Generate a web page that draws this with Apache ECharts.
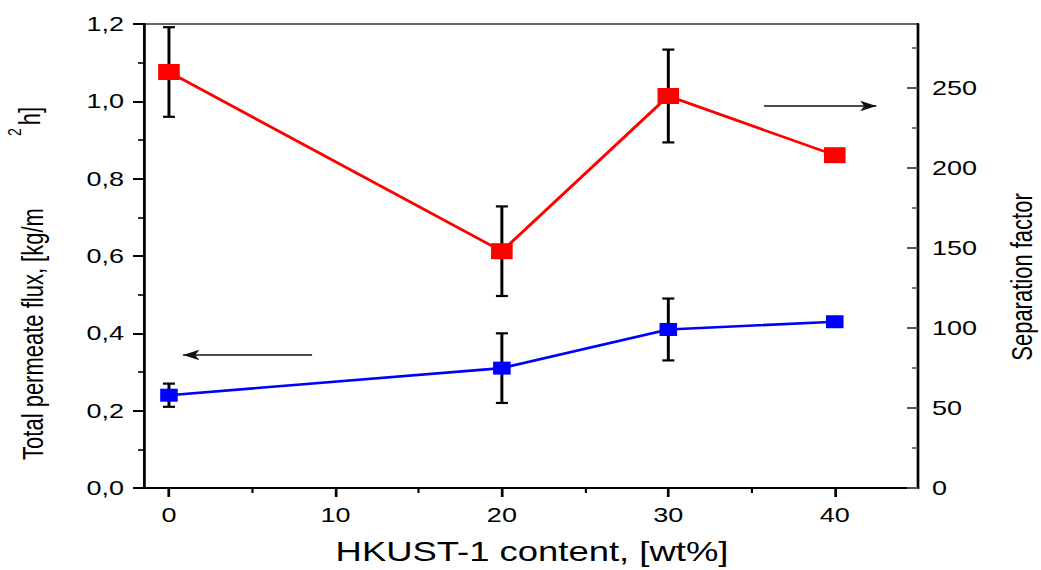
<!DOCTYPE html>
<html>
<head>
<meta charset="utf-8">
<script src="https://cdn.jsdelivr.net/npm/echarts@6/dist/echarts.min.js"></script>
<style>
  html, body { margin: 0; padding: 0; background: #fff; overflow: hidden; width: 1041px; height: 570px; }
  #chart { position: absolute; left: 0; top: 0; height: 570px; transform-origin: 0 0; }
</style>
</head>
<body>
<div id="chart"></div>
<script>
// HKUST-1 loading (wt%)
const contents = [0, 20, 30, 40];
// Total permeate flux, kg/(m2 h), with symmetric error half-widths
const fluxValues = [0.24, 0.31, 0.41, 0.43];
const fluxErrors = [0.03, 0.09, 0.08, null];
// Separation factor, with symmetric error half-widths
const separationValues = [260, 148, 245, 208];
const separationErrors = [28, 28, 29, null];

// Axis ticks
const xMajorTicks = [0, 10, 20, 30, 40];
const xMinorTicks = [5, 15, 25, 35];
const fluxMajorTicks = [0, 0.2, 0.4, 0.6, 0.8, 1.0, 1.2];
const fluxMinorTicks = [0.1, 0.3, 0.5, 0.7, 0.9, 1.1];
const sepMajorTicks = [0, 50, 100, 150, 200, 250];
const sepMinorTicks = [25, 75, 125, 175, 225, 275];

// Direction arrows pointing each curve to its axis (data coordinates)
const fluxArrow = { from: [8.6, 0.344], to: [0.85, 0.344] };
const sepArrow = { from: [35.75, 238.75], to: [42.5, 238.75] };

// The figure is laid out on a narrower canvas and widened horizontally.
const SX = 1.35;
const W = 1041 / SX, H = 570;
const px = v => v / SX;

const el = document.getElementById('chart');
el.style.width = W + 'px';
el.style.transform = 'scaleX(' + SX + ')';

const FONT = "'Liberation Sans', Arial, sans-serif";

function errorRows(values, errors) {
  const rows = [];
  contents.forEach((x, i) => {
    if (errors[i] != null) rows.push([x, values[i] - errors[i], values[i] + errors[i]]);
  });
  return rows;
}

function renderErrorBar(params, api) {
  const x = api.value(0);
  const lo = api.coord([x, api.value(1)]);
  const hi = api.coord([x, api.value(2)]);
  const cap = px(6);
  const style = { stroke: '#000', lineWidth: 2.2 };
  const capStyle = { stroke: '#000', lineWidth: 2.2 };
  return {
    type: 'group',
    children: [
      { type: 'line', shape: { x1: hi[0], y1: hi[1], x2: lo[0], y2: lo[1] }, style },
      { type: 'line', shape: { x1: hi[0] - cap, y1: hi[1], x2: hi[0] + cap, y2: hi[1] }, style: capStyle },
      { type: 'line', shape: { x1: lo[0] - cap, y1: lo[1], x2: lo[0] + cap, y2: lo[1] }, style: capStyle }
    ]
  };
}

const chart = echarts.init(el, null, { renderer: 'svg', width: W, height: H });

const tickLabel = { fontFamily: FONT, fontSize: 20, color: '#000' };

const arrowLine = {
  silent: true, symbol: ['none', 'arrow'], symbolSize: [8, 12],
  label: { show: false }, lineStyle: { color: '#111', width: 1.6, type: 'solid' }
};

chart.setOption({
  animation: false,
  backgroundColor: '#fff',
  grid: {
    left: px(144), right: W - px(918), top: 24, bottom: 570 - 488,
    show: true, borderColor: '#333', borderWidth: 1.5, backgroundColor: 'transparent'
  },
  xAxis: [
    {
      type: 'value', min: -1.5, max: 45, position: 'bottom',
      splitLine: { show: false },
      axisLine: { show: true, onZero: false, lineStyle: { color: '#000', width: 2 } },
      axisTick: { show: true, length: 9, customValues: xMajorTicks, lineStyle: { color: '#000', width: 2 } },
      axisLabel: { ...tickLabel, margin: 17, customValues: xMajorTicks, formatter: v => String(v) }
    },
    {
      type: 'value', min: -1.5, max: 45, position: 'bottom',
      splitLine: { show: false },
      axisLine: { show: false, onZero: false },
      axisTick: { show: true, length: 5, customValues: xMinorTicks, lineStyle: { color: '#000', width: 1.6 } },
      axisLabel: { show: false }
    }
  ],
  yAxis: [
    {
      type: 'value', min: 0, max: 1.2, position: 'left',
      splitLine: { show: false },
      axisLine: { show: true, onZero: false, lineStyle: { color: '#000', width: 2 } },
      axisTick: { show: true, length: px(11), customValues: fluxMajorTicks, lineStyle: { color: '#000', width: 2 } },
      axisLabel: { ...tickLabel, margin: px(20), customValues: fluxMajorTicks,
        formatter: v => v.toFixed(1).replace('.', ',') }
    },
    {
      type: 'value', min: 0, max: 290, position: 'right',
      splitLine: { show: false },
      axisLine: { show: true, onZero: false, lineStyle: { color: '#000', width: 2 } },
      axisTick: { show: true, inside: true, length: px(11), customValues: sepMajorTicks, lineStyle: { color: '#555', width: 2 } },
      axisLabel: { ...tickLabel, margin: px(14), customValues: sepMajorTicks, formatter: v => String(v) }
    },
    {
      type: 'value', min: 0, max: 1.2, position: 'left',
      splitLine: { show: false },
      axisLine: { show: false, onZero: false },
      axisTick: { show: true, length: px(6), customValues: fluxMinorTicks, lineStyle: { color: '#000', width: 1.6 } },
      axisLabel: { show: false }
    },
    {
      type: 'value', min: 0, max: 290, position: 'right',
      splitLine: { show: false },
      axisLine: { show: false, onZero: false },
      axisTick: { show: true, inside: true, length: px(6), customValues: sepMinorTicks, lineStyle: { color: '#555', width: 1.6 } },
      axisLabel: { show: false }
    }
  ],
  graphic: [
    {
      type: 'text', x: px(33), y: 334, rotation: Math.PI / 2,
      style: { text: 'Total permeate flux, [kg/m', font: '22px ' + FONT, fill: '#000', align: 'center', verticalAlign: 'middle' }
    },
    {
      type: 'text', x: px(30), y: 116, rotation: Math.PI / 2,
      style: { text: 'h]', font: '22px ' + FONT, fill: '#000', align: 'center', verticalAlign: 'middle' }
    },
    {
      type: 'text', x: px(15), y: 132, rotation: Math.PI / 2,
      style: { text: '2', font: '14px ' + FONT, fill: '#000', align: 'center', verticalAlign: 'middle' }
    },
    {
      type: 'text', x: px(1022), y: 277, rotation: Math.PI / 2,
      style: { text: 'Separation factor', font: '22px ' + FONT, fill: '#000', align: 'center', verticalAlign: 'middle' }
    },
    {
      type: 'text', x: px(532), y: 552,
      style: { text: 'HKUST-1 content, [wt%]', font: '27px ' + FONT, fill: '#000', align: 'center', verticalAlign: 'middle' }
    }
  ],
  series: [
    {
      type: 'custom', name: 'flux error', xAxisIndex: 0, yAxisIndex: 0, z: 1,
      renderItem: renderErrorBar, encode: { x: 0, y: [1, 2] },
      data: errorRows(fluxValues, fluxErrors), silent: true
    },
    {
      type: 'custom', name: 'separation error', xAxisIndex: 0, yAxisIndex: 1, z: 1,
      renderItem: renderErrorBar, encode: { x: 0, y: [1, 2] },
      data: errorRows(separationValues, separationErrors), silent: true
    },
    {
      type: 'line', name: 'Total permeate flux', xAxisIndex: 0, yAxisIndex: 0, z: 3,
      data: contents.map((x, i) => [x, fluxValues[i]]),
      symbol: 'rect', symbolSize: 13, showSymbol: true,
      itemStyle: { color: '#0000ff' },
      lineStyle: { color: '#0000ff', width: 2.6 },
      markLine: { ...arrowLine, data: [[{ coord: fluxArrow.from }, { coord: fluxArrow.to }]] }
    },
    {
      type: 'line', name: 'Separation factor', xAxisIndex: 0, yAxisIndex: 1, z: 3,
      data: contents.map((x, i) => [x, separationValues[i]]),
      symbol: 'rect', symbolSize: 16, showSymbol: true,
      itemStyle: { color: '#ff0000' },
      lineStyle: { color: '#ff0000', width: 2.6 },
      markLine: { ...arrowLine, data: [[{ coord: sepArrow.from }, { coord: sepArrow.to }]] }
    }
  ]
});
</script>
</body>
</html>
